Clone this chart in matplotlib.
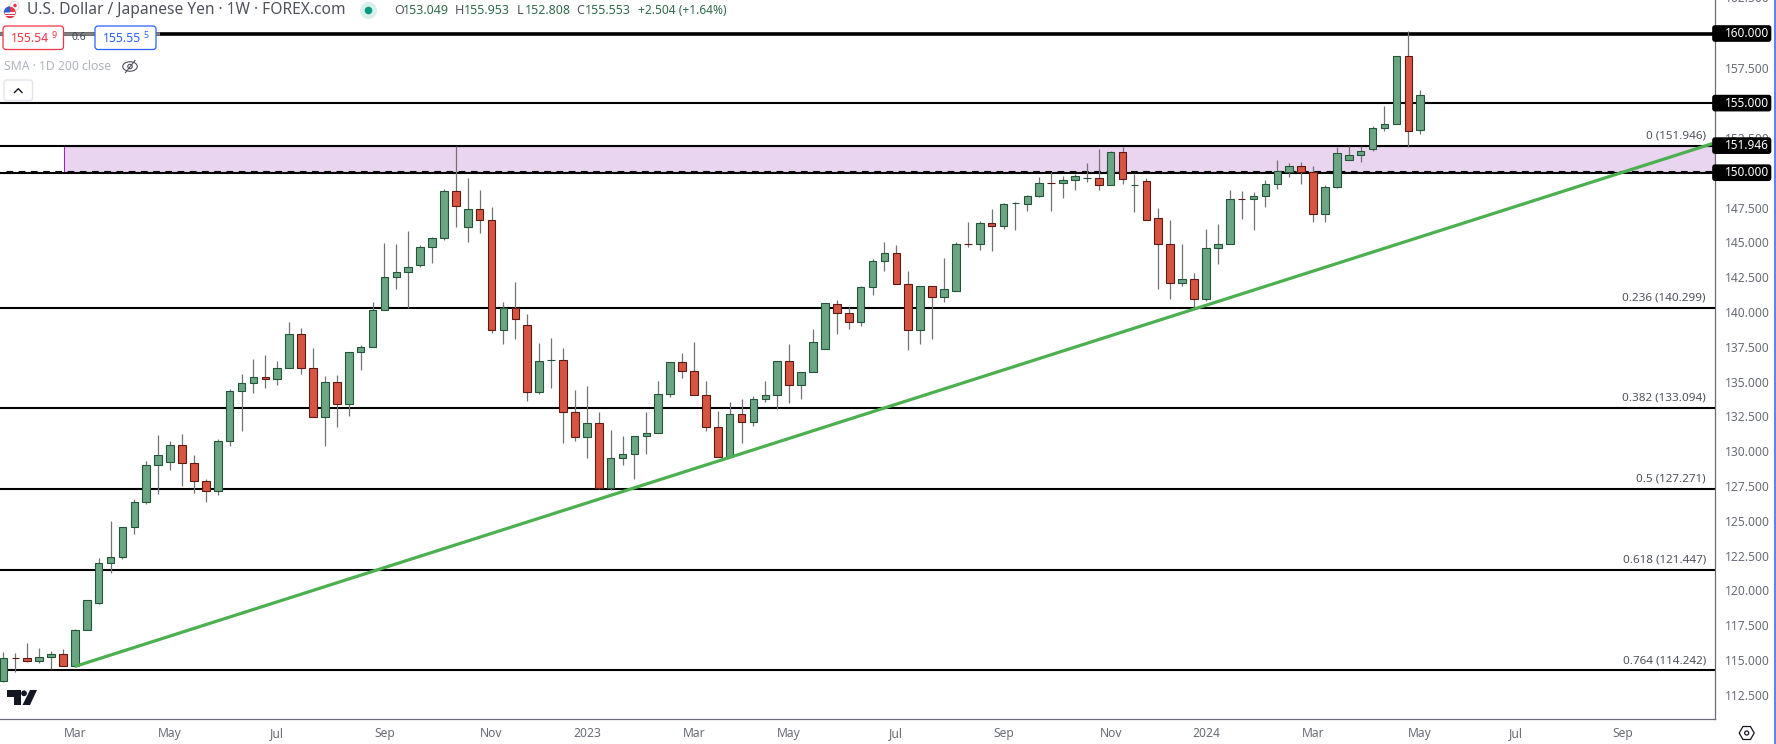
import matplotlib
matplotlib.use('Agg')
import matplotlib.pyplot as plt
from matplotlib.patches import Circle, Ellipse, FancyBboxPatch, Polygon, Rectangle, RegularPolygon, Wedge

plt.rcParams['font.family'] = ['Noto Sans', 'DejaVu Sans']

# weekly candles
opens = [113.50, 115.16, 115.15, 114.93, 115.22, 115.44, 114.57, 117.16, 119.10, 121.97,
         122.40, 124.56, 126.36, 129.01, 129.23, 130.45, 129.16, 127.86, 127.15, 130.74,
         134.33, 134.90, 135.33, 135.17, 135.98, 138.43, 135.98, 132.46, 134.98, 133.40,
         137.13, 137.49, 140.15, 142.52, 142.88, 143.38, 144.67, 145.32, 148.69, 146.09,
         147.40, 146.61, 138.69, 140.29, 139.07, 134.23, 136.55, 136.56, 132.82, 131.00,
         132.03, 127.34, 129.49, 129.81, 131.10, 131.31, 134.12, 136.42, 135.77, 134.04,
         131.75, 129.57, 132.68, 132.10, 133.76, 134.04, 136.49, 134.76, 135.70, 137.35,
         140.58, 139.94, 139.29, 141.80, 143.67, 144.25, 141.99, 138.69, 141.87, 141.06,
         141.49, 144.90, 144.89, 146.40, 146.16, 147.83, 147.76, 148.34, 149.28, 149.27,
         149.49, 149.62, 149.63, 149.13, 151.50, 149.12, 149.41, 146.76, 144.89, 142.06,
         142.37, 140.91, 144.60, 144.89, 148.13, 148.12, 148.34, 149.20, 150.06, 150.49,
         150.06, 147.04, 148.98, 150.92, 151.28, 151.71, 153.22, 153.51, 158.39, 153.049]
highs = [115.60, 115.53, 116.23, 115.82, 115.65, 115.75, 117.23, 119.33, 122.33, 125.01,
         124.56, 126.57, 129.30, 131.19, 130.74, 131.26, 129.73, 128.01, 130.88, 134.47,
         135.55, 136.63, 136.92, 136.48, 139.29, 138.81, 137.42, 135.41, 135.48, 137.13,
         137.63, 140.72, 144.96, 144.89, 145.83, 144.82, 145.39, 148.86, 151.946, 149.65,
         148.77, 147.57, 140.72, 142.18, 139.88, 137.80, 138.16, 137.44, 134.42, 134.71,
         132.84, 131.53, 131.05, 131.10, 132.82, 135.07, 136.42, 137.08, 137.87, 135.07,
         132.89, 133.54, 133.71, 133.97, 135.07, 136.49, 137.73, 135.70, 138.74, 140.65,
         140.87, 140.37, 141.87, 143.81, 145.04, 144.84, 142.97, 141.87, 141.87, 143.84,
         144.99, 146.47, 146.54, 147.36, 147.84, 147.91, 148.41, 149.66, 150.06, 149.77,
         149.92, 150.73, 151.67, 151.59, 151.88, 149.92, 149.63, 147.48, 146.57, 144.91,
         142.83, 145.92, 146.35, 148.79, 148.65, 148.58, 149.51, 150.88, 150.71, 150.78,
         150.49, 149.13, 151.83, 151.95, 151.95, 153.37, 154.76, 158.39, 160.21, 155.953]
lows = [113.40, 114.10, 114.84, 114.77, 114.33, 114.57, 114.50, 117.15, 119.00, 121.23,
        122.24, 124.03, 126.19, 126.91, 128.63, 127.48, 126.98, 126.33, 126.84, 130.40,
        131.43, 134.21, 134.52, 134.74, 135.98, 135.53, 132.46, 130.36, 131.72, 132.53,
        135.82, 137.49, 140.15, 141.63, 140.29, 143.21, 143.50, 145.20, 146.13, 145.05,
        145.65, 138.47, 137.66, 138.02, 133.59, 134.07, 134.50, 130.57, 130.76, 129.47,
        127.27, 127.17, 128.97, 128.03, 129.78, 131.31, 133.87, 135.22, 134.04, 131.48,
        129.57, 129.57, 130.57, 131.82, 133.52, 132.99, 133.45, 133.73, 135.70, 137.35,
        138.40, 138.74, 138.98, 141.20, 142.93, 142.02, 137.23, 137.68, 138.02, 140.70,
        141.49, 144.63, 144.48, 144.41, 145.99, 145.85, 147.28, 148.22, 147.28, 148.15,
        148.75, 149.30, 148.79, 149.13, 149.18, 147.16, 146.61, 141.63, 140.91, 141.85,
        140.34, 140.77, 143.43, 144.89, 146.66, 145.85, 147.57, 148.86, 149.68, 149.18,
        146.45, 146.45, 148.89, 150.92, 150.80, 151.55, 152.98, 153.51, 151.83, 152.808]
closes = [115.15, 115.14, 114.93, 115.22, 115.44, 114.57, 117.16, 119.32, 121.97, 122.40,
          124.56, 126.36, 129.01, 129.73, 130.45, 129.16, 127.86, 127.15, 130.74, 134.33,
          134.90, 135.33, 135.17, 135.98, 138.43, 135.98, 132.46, 134.98, 133.40, 137.13,
          137.49, 140.15, 142.52, 142.88, 143.24, 144.67, 145.32, 148.69, 147.59, 147.40,
          146.59, 138.69, 140.29, 139.48, 134.23, 136.49, 136.57, 132.80, 131.00, 132.03,
          127.34, 129.52, 129.81, 131.10, 131.31, 134.12, 136.42, 135.77, 134.04, 131.75,
          129.57, 132.68, 132.10, 133.76, 134.04, 136.49, 134.76, 135.70, 137.85, 140.65,
          139.94, 139.29, 141.80, 143.67, 144.25, 142.02, 138.69, 141.87, 141.06, 141.66,
          144.89, 144.88, 146.40, 146.16, 147.76, 147.84, 148.34, 149.27, 149.26, 149.49,
          149.77, 149.64, 149.13, 151.50, 149.53, 149.14, 146.61, 144.87, 142.06, 142.37,
          140.91, 144.60, 144.89, 148.12, 148.11, 148.34, 149.20, 150.13, 150.49, 150.06,
          147.04, 148.98, 151.43, 151.28, 151.57, 153.22, 153.51, 158.39, 153.01, 155.553]

tick_idx = [6, 14, 23, 32, 41, 49, 58, 66, 75, 84, 93, 101, 110, 119, 127, 136]
tick_labels = ['Mar', 'May', 'Jul', 'Sep', 'Nov', '2023', 'Mar', 'May', 'Jul', 'Sep', 'Nov', '2024', 'Mar', 'May', 'Jul', 'Sep']
y_ticks = [112.5, 115, 117.5, 120, 122.5, 125, 127.5, 130, 132.5, 135, 137.5, 140, 142.5, 145, 147.5, 150, 152.5, 155, 157.5, 160]

fib_ratios = ['0', '0.236', '0.382', '0.5', '0.618', '0.764']
fib_prices = [151.946, 140.299, 133.094, 127.271, 121.447, 114.242]
round_levels = [155.0, 150.0]
tag_levels = [160.0, 155.0, 151.946, 150.0]
zone_top = 151.946
zone_bottom = 150.07
dash_level = 150.13
trend_x = [6, 143.76]
trend_y = [114.53, 152.15]

up_fill, up_edge = '#6ba583', '#225437'
down_fill, down_edge = '#d75442', '#5b1a13'
wick_color = '#737375'
axis_color = '#6a6d78'

y_top = 162.407
px_per_unit = 13.92

fig = plt.figure(figsize=(17.76, 7.44), dpi=100)
ax = fig.add_axes([0, 25 / 744, 1715 / 1776, 719 / 744])
ax.set_xlim(-0.289, 143.76)
ax.set_ylim(y_top - 719 / px_per_unit, y_top)

# zone and levels under the candles
ax.add_patch(Rectangle((5.05, zone_bottom), 143.76 - 5.05, zone_top - zone_bottom, facecolor='#ead5f0',
                       edgecolor='#9c27b0', linewidth=0.8, zorder=1))
ax.axhline(160.0, color='black', lw=2.6, zorder=2)
for level in round_levels + fib_prices:
    ax.axhline(level, color='black', lw=1.5, zorder=2)
ax.hlines(dash_level, 0.2, 143.76, color='black', lw=0.8, linestyles=(0, (6, 5)), zorder=2)

colors = ['up' if c >= o else 'down' for o, c in zip(opens, closes)]
for i in range(len(opens)):
    ax.vlines(i, lows[i], highs[i], color=wick_color, lw=0.9, zorder=3)
    bottom = min(opens[i], closes[i])
    height = abs(closes[i] - opens[i])
    fill, edge = (up_fill, up_edge) if colors[i] == 'up' else (down_fill, down_edge)
    ax.bar(i, height, bottom=bottom, width=0.64, color=fill, edgecolor=edge, linewidth=0.78, zorder=4)

ax.plot(trend_x, trend_y, color='#4caf50', lw=2.3, zorder=5, solid_capstyle='butt')

for ratio, price in zip(fib_ratios, fib_prices):
    ax.annotate(f'{ratio} ({price:.3f})', xy=(1, price), xycoords=ax.get_yaxis_transform(),
                xytext=(-6.5, 3), textcoords='offset points', ha='right', va='bottom',
                fontsize=8.4, color='#50535e', zorder=6)

ax.yaxis.tick_right()
ax.set_yticks(y_ticks)
ax.set_yticklabels([f'{v:.3f}' for v in y_ticks], fontsize=8.7, color=axis_color)
ax.set_xticks(tick_idx)
ax.set_xticklabels(tick_labels, fontsize=8.7, color=axis_color)
ax.tick_params(length=0)
ax.tick_params(axis='y', pad=7)
ax.tick_params(axis='x', pad=6)
for side in ['top', 'left']:
    ax.spines[side].set_visible(False)
for side in ['right', 'bottom']:
    ax.spines[side].set_color(axis_color)
    ax.spines[side].set_linewidth(0.9)

# everything drawn around the chart, in picture pixels
over = fig.add_axes([0, 0, 1, 1])
over.set_xlim(0, 1776)
over.set_ylim(744, 0)
over.axis('off')
over.patch.set_alpha(0)

over.text(1725, -1.5, '162.500', fontsize=8.7, color=axis_color, va='center', ha='left')
over.plot([0, 160], [33.5, 33.5], color='#808080', lw=2.6, solid_capstyle='butt')
over.plot([1775.2, 1775.2], [0, 744], color='#2f5fd8', lw=1.1)

for level in tag_levels:
    y = (y_top - level) * px_per_unit
    over.add_patch(FancyBboxPatch((1713, y - 7.5), 57.5, 15, boxstyle='round,pad=0,rounding_size=2',
                                  facecolor='black', edgecolor='black', lw=1.2, zorder=7))
    over.text(1724.5, y, f'{level:.3f}', fontsize=8.5, fontweight='bold', color='white', va='center', ha='left', zorder=8)

# legend
title_color = '#50535e'
over.text(27, 10.5, 'U.S. Dollar / Japanese Yen · 1W · FOREX.com', fontsize=11.2, color=title_color, va='center')
over.add_patch(Circle((368.5, 10.5), 8.5, facecolor='#d8f0ea', edgecolor='none'))
over.add_patch(Circle((368.5, 10.5), 3.8, facecolor='#089981', edgecolor='none'))
value_color = '#2f6b4c'
for x, letter, value in [(394, 'O', opens[-1]), (455, 'H', highs[-1]), (516.5, 'L', lows[-1]), (576.5, 'C', closes[-1])]:
    over.text(x, 10.5, letter, fontsize=9, color=title_color, va='center')
    over.text(x + 8.5, 10.5, f'{value:.3f}', fontsize=9, color=value_color, va='center')
change = closes[-1] - opens[-1]
over.text(727, 10.5, f'+{change:.3f} (+{change / opens[-1] * 100:.2f}%)', fontsize=8.6, color=value_color, va='center', ha='right')

# flag icon
over.add_patch(Circle((14.5, 6), 4.6, facecolor='white', edgecolor='#d0d3da', lw=0.6))
over.add_patch(Circle((15, 5.5), 1.8, facecolor='#e6394a', edgecolor='none'))
over.add_patch(Circle((10, 12.5), 6.2, facecolor='#e6394a', edgecolor='white', lw=0.6))
over.add_patch(Rectangle((5, 12), 10, 1.5, facecolor='white', edgecolor='none'))
over.add_patch(Rectangle((4.5, 15), 11, 1.3, facecolor='white', edgecolor='none'))
over.add_patch(Wedge((10, 12.5), 6.2, 180, 270, facecolor='#2f5fd8', edgecolor='none'))

for x0, x1, edge, txt, sup in [(3, 63.5, '#f23645', '155.54', '9'), (95, 156, '#2962ff', '155.55', '5')]:
    over.add_patch(FancyBboxPatch((x0, 26), x1 - x0, 23.5, boxstyle='round,pad=0,rounding_size=3',
                                  facecolor='white', edgecolor=edge, lw=0.9, zorder=3))
    over.text(x0 + 7.5, 38.5, txt, fontsize=8.8, color=edge, va='center', zorder=4)
    over.text(x0 + 48.5, 35.5, sup, fontsize=6.4, color=edge, va='center', zorder=4)
over.text(79, 38, '0.6', fontsize=7.4, color='#434651', va='center', ha='center')

over.text(3.5, 66.5, 'SMA · 1D 200 close', fontsize=8.8, color='#b2b5be', va='center')
over.add_patch(Ellipse((130, 66.5), 14.5, 9.5, facecolor='none', edgecolor='#50535e', lw=0.8))
over.add_patch(Circle((130, 66.5), 2.2, facecolor='none', edgecolor='#50535e', lw=0.8))
over.plot([125.5, 135], [72.5, 60.5], color='#50535e', lw=0.8)

over.add_patch(FancyBboxPatch((4, 80), 28.5, 20.5, boxstyle='round,pad=0,rounding_size=2.5',
                              facecolor='white', edgecolor='#e0e3eb', lw=0.9))
over.plot([14.5, 18.3, 22], [92.5, 88.7, 92.5], color='#131722', lw=1)

# logo and settings icon
over.add_patch(Polygon([(7, 690), (21, 690), (21, 705), (14, 705), (14, 697), (7, 697)], facecolor='#131722', edgecolor='none'))
over.add_patch(Circle((24, 693.3), 2.9, facecolor='#131722', edgecolor='none'))
over.add_patch(Polygon([(30, 690), (37, 690), (30, 705), (22.5, 705)], facecolor='#131722', edgecolor='none'))
over.add_patch(RegularPolygon((1746.7, 733), 6, radius=7.5, orientation=0.5236, facecolor='none', edgecolor='#131722', lw=0.9))
over.add_patch(Circle((1746.7, 733), 2, facecolor='none', edgecolor='#131722', lw=0.9))

fig.savefig('out.png', dpi=100)
